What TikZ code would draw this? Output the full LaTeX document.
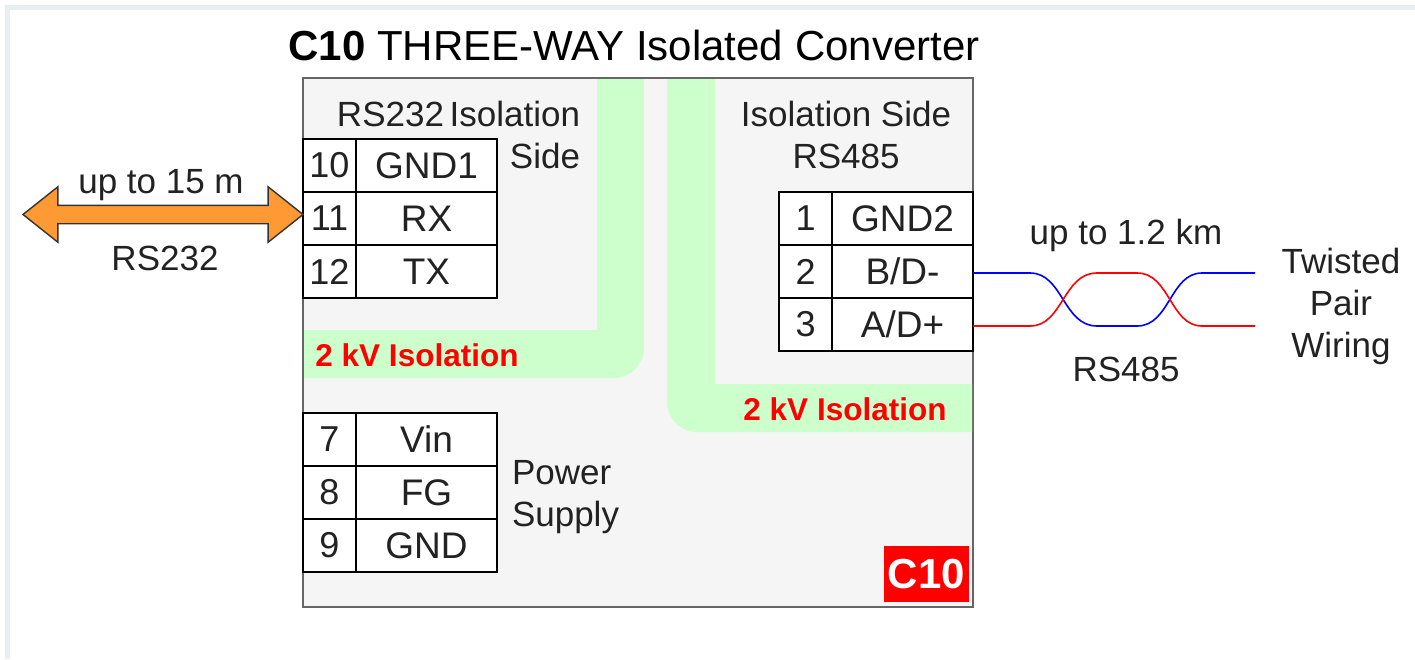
\documentclass[tikz,border=0pt]{standalone}
\usepackage{fontspec}
\setmainfont{Liberation Sans}
\usetikzlibrary{shapes.arrows}
\definecolor{framegray}{HTML}{E9EEF1}
\definecolor{boxgray}{HTML}{F5F5F5}
\definecolor{bandgreen}{HTML}{CCFFCC}
\definecolor{textgray}{HTML}{222222}
\definecolor{linkorange}{HTML}{FF9933}
\tikzset{ %all sizes are in image pixels
  {base cell/.style} ={rectangle,draw=black,fill=white,line width=1.6pt,inner sep=0,
                outer sep=0,minimum height=53pt,text=textgray},
  {pin cell/.style} ={base cell,minimum width=53pt,font=\fontsize{36}{43}\selectfont},
  {name cell/.style} ={base cell,minimum width=141pt,font=\fontsize{37}{44}\selectfont},
  {side text/.style} ={inner sep=0,outer sep=0,text=textgray,
                font=\fontsize{35}{42}\selectfont},
  {iso text/.style} ={inner sep=0,outer sep=0,text=red,
                font=\fontsize{31.5}{38}\selectfont\bfseries},
  {iso band/.style} ={fill=bandgreen,draw=none},
  {wire/.style} ={line width=1.6pt},
}
\begin{document}
\begin{tikzpicture}[x=1pt,y=-1pt]
    \useasboundingbox (0,0) rectangle (1415,659);
    \draw[framegray,line width=5pt] (7.5,659) -- (7.5,7.5) -- (1415,7.5);
    \node[inner sep=0,text=black,font=\fontsize{42}{50}\selectfont] (title) at (634,45)
      {\textbf{C10} THREE-WAY Isolated Converter};
    \node[rectangle,draw=black!60,fill=boxgray,line width=1.6pt,inner sep=0,
      minimum width=670pt,minimum height=529pt] (conv) at (638,342.5) {};
    % isolation bands
    \path[iso band] (597,79) -- (644,79) -- (644,348) arc (0:90:30) -- (304,378)
      -- (304,330) -- (597,330) -- cycle;
    \path[iso band] (667,79) -- (715,79) -- (715,384) -- (972,384) -- (972,432) -- (697,432)
      arc (90:180:30) -- cycle;
    \node[iso text] (isoa) at (417,355) {2 kV Isolation};
    \node[iso text] (isob) at (845,409) {2 kV Isolation};
    % RS232 side
    \node[side text] (side232) at (390.5,114) {RS232};
    \node[side text,align=right,anchor=north east] (iso232) at (580,101) {Isolation\\Side};
    \node[pin cell] (p10) at (329.5,165.5) {10};
    \node[name cell] (gnda) at (426.5,165.5) {GND1};
    \node[pin cell] (p11) at (329.5,218.5) {11};
    \node[name cell] (rx) at (426.5,218.5) {RX};
    \node[pin cell] (p12) at (329.5,271.5) {12};
    \node[name cell] (tx) at (426.5,271.5) {TX};
    % power
    \node[pin cell] (p7) at (329.5,439.5) {7};
    \node[name cell] (vin) at (426.5,439.5) {Vin};
    \node[pin cell] (p8) at (329.5,492.5) {8};
    \node[name cell] (fg) at (426.5,492.5) {FG};
    \node[pin cell] (p9) at (329.5,545.5) {9};
    \node[name cell] (gnd) at (426.5,545.5) {GND};
    \node[side text,align=left,anchor=west] (power) at (512,497) {Power\\Supply};
    % RS485 side
    \node[side text,align=center] (side485) at (846,135) {Isolation Side\\RS485};
    \node[pin cell] (p1) at (805.5,218.5) {1};
    \node[name cell] (gndb) at (902.5,218.5) {GND2};
    \node[pin cell] (p2) at (805.5,271.5) {2};
    \node[name cell] (bd) at (902.5,271.5) {B/D-};
    \node[pin cell] (p3) at (805.5,324.5) {3};
    \node[name cell] (ad) at (902.5,324.5) {A/D+};
    \node[rectangle,fill=red,text=white,inner sep=0,minimum width=85pt,minimum height=56pt,
      font=\fontsize{42}{50}\selectfont\bfseries] (tag) at (926.5,574) {C10};
    % RS232 link
    \node[double arrow,draw=black!80,fill=linkorange,line width=1.4pt,inner sep=0,
      minimum height=280pt,minimum width=54pt,double arrow head extend=18.5pt,
      double arrow tip angle=77,text height=17pt,text width=0pt] (link) at (163,214.5) {};
    \node[side text] (len232) at (161,185) {up to 15 m};
    \node[side text] (name232) at (165,258) {RS232};
    % RS485 link
    \coordinate (bend) at (1255,273);
    \coordinate (aend) at (1255,326);
    \draw[wire,blue] (bd.east |- bend) -- (1030,273) .. controls (1063,273) and (1063,326) .. (1097,326)
      -- (1137,326) .. controls (1170,326) and (1170,273) .. (1202,273) -- (bend);
    \draw[wire,red] (ad.east |- aend) -- (1030,326) .. controls (1063,326) and (1063,273) .. (1097,273)
      -- (1137,273) .. controls (1170,273) and (1170,326) .. (1202,326) -- (aend);
    \node[side text] (len485) at (1126,235) {up to 1.2 km};
    \node[side text] (name485) at (1126,369) {RS485};
    \node[side text,align=center] (pair) at (1341,306) {Twisted\\Pair\\Wiring};
\end{tikzpicture}
\end{document}
